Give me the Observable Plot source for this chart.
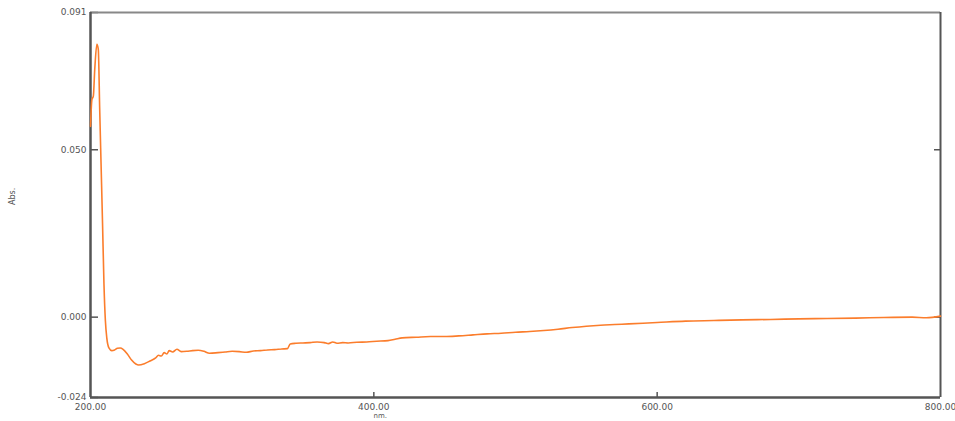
<!DOCTYPE html>
<html>
<head>
<meta charset="utf-8">
<script src="https://cdn.jsdelivr.net/npm/d3@7"></script>
<script src="https://cdn.jsdelivr.net/npm/@observablehq/plot@0.6"></script>
<style>
  html, body { margin: 0; padding: 0; background: #fff; }
  #chart svg { display: block; }
</style>
</head>
<body>
<div id="chart"></div>
<script>
const wavelength = [200, 201, 202, 203, 204.5, 205.5, 206.5, 207.5, 208.5, 209.5, 210.5, 211.5, 213, 215, 217, 219, 221, 223, 226, 229, 232, 234, 238, 242, 246, 248, 250, 252, 254, 255.5, 258, 261, 264, 268, 272, 276, 280, 284, 290, 295, 300, 305, 310, 315, 320, 325, 330, 335, 339, 341, 345, 350, 355, 360, 365, 368, 371, 374, 378, 382, 388, 395, 402, 410, 415, 420, 430, 440, 450, 460, 470, 480, 490, 500, 510, 520, 530, 540, 550, 560, 570, 580, 590, 600, 620, 640, 660, 680, 700, 720, 740, 760, 780, 790, 800];
const absorbance = [0.057, 0.065, 0.066, 0.074, 0.0815, 0.080, 0.062, 0.045, 0.028, 0.010, -0.001, -0.0062, -0.0092, -0.0100, -0.0098, -0.0093, -0.0092, -0.0096, -0.0110, -0.0128, -0.0140, -0.0143, -0.0139, -0.0131, -0.0122, -0.0114, -0.0116, -0.0106, -0.0110, -0.0100, -0.0104, -0.0096, -0.0103, -0.0102, -0.0100, -0.0099, -0.0102, -0.0108, -0.0106, -0.0104, -0.0102, -0.0103, -0.0105, -0.0101, -0.0100, -0.0098, -0.0097, -0.0095, -0.0094, -0.0080, -0.0078, -0.0077, -0.0076, -0.0074, -0.0076, -0.0079, -0.0074, -0.0078, -0.0076, -0.0077, -0.0075, -0.0074, -0.0072, -0.0070, -0.0066, -0.0062, -0.0060, -0.0058, -0.0058, -0.0056, -0.0053, -0.0050, -0.0048, -0.0045, -0.0043, -0.0040, -0.0036, -0.0031, -0.0027, -0.0024, -0.0022, -0.0020, -0.0018, -0.0016, -0.0012, -0.0010, -0.0008, -0.0007, -0.0005, -0.0004, -0.0003, -0.0001, 0.0000, -0.0002, 0.0003];

const xTicks = [200, 400, 600, 800];
const xInnerTicks = [400, 600];
const yTicks = [0.091, 0.050, 0.000, -0.024];
const yRightTicks = [0.050, 0.000];
const xDomain = [200, 800];
const yDomain = [-0.024, 0.091];

const data = wavelength.map((w, i) => ({w, a: absorbance[i]}));

const W = 955, H = 421;
const mL = 90, mR = 15, mT = 12, mB = 24;
const pw = W - mL - mR, ph = H - mT - mB;
const axisColor = "#555";
const font = "DejaVu Sans, Verdana, sans-serif";

const chart = Plot.plot({
  width: W,
  height: H,
  marginLeft: mL,
  marginRight: mR,
  marginTop: mT,
  marginBottom: mB,
  style: {fontFamily: font, fontSize: "9px", color: "#555", background: "#fff"},
  x: {domain: xDomain, label: null},
  y: {domain: yDomain, label: null},
  marks: [
    Plot.axisX(xTicks, {tickSize: 0, tickPadding: 6, tickFormat: d => d.toFixed(2), fill: "#555", fontSize: 9, label: null}),
    Plot.axisY(yTicks, {tickSize: 0, tickPadding: 4, tickFormat: d => d.toFixed(3), fill: "#555", fontSize: 9, label: null}),
    Plot.tickY(yTicks, {y: d => d, insetRight: pw - 8, stroke: axisColor, strokeWidth: 1.5}),
    Plot.tickY(yRightTicks, {y: d => d, insetLeft: pw - 6, stroke: axisColor, strokeWidth: 1.5}),
    Plot.tickX(xInnerTicks, {x: d => d, insetTop: ph - 5, stroke: axisColor, strokeWidth: 1.5}),
    Plot.ruleY([yDomain[1]], {stroke: "#888", strokeWidth: 2}),
    Plot.ruleX([xDomain[1]], {stroke: axisColor, strokeWidth: 2}),
    Plot.ruleX([xDomain[0]], {stroke: axisColor, strokeWidth: 2.5}),
    Plot.ruleY([yDomain[0]], {stroke: axisColor, strokeWidth: 2.5}),
    Plot.line(data, {x: "w", y: "a", stroke: "#fb7d2c", strokeWidth: 1.6, curve: "monotone-x"}),
    Plot.text(["Abs."], {frameAnchor: "left", dx: -78, rotate: -90, fill: "#555", fontSize: 8}),
    Plot.text(["nm."], {frameAnchor: "bottom-left", dx: 283, dy: 20, fill: "#555", fontSize: 7})
  ]
});
document.getElementById("chart").appendChild(chart);
</script>
</body>
</html>
